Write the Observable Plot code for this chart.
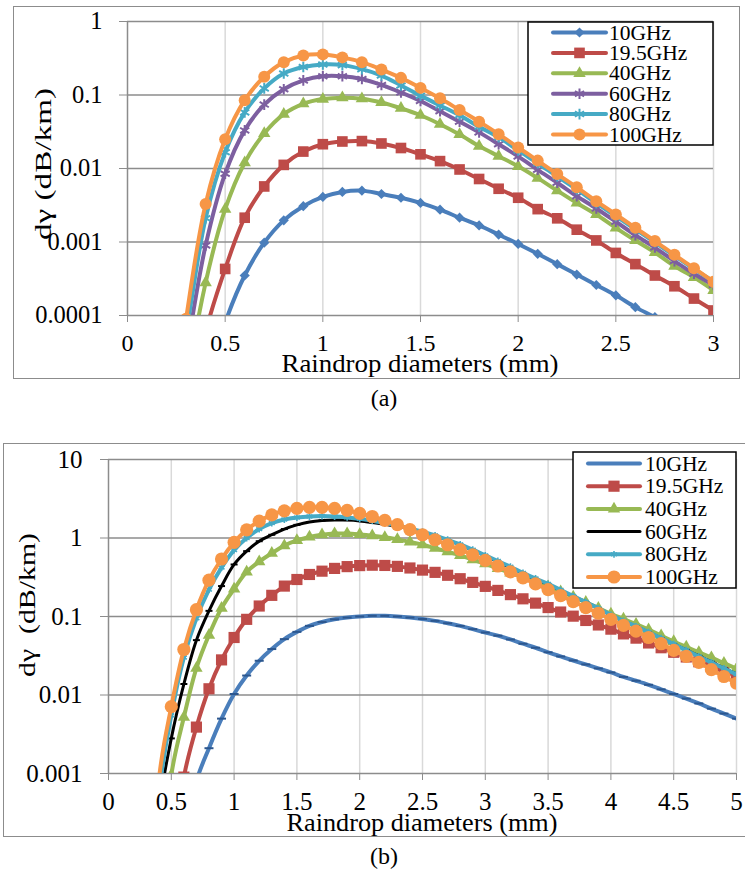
<!DOCTYPE html>
<html><head><meta charset="utf-8">
<script src="https://cdn.jsdelivr.net/npm/d3@7"></script>
<script src="https://cdn.jsdelivr.net/npm/@observablehq/plot@0.6"></script>
<style>
body{margin:0;background:#fff;overflow:hidden}
#wrap{position:relative;width:745px;height:870px;overflow:hidden;font-family:"Liberation Serif","Times New Roman",serif;color:#000}
.frame{position:absolute;border:1.5px solid #8c8c8c;box-sizing:border-box}
.plot{position:absolute;left:0}
</style></head><body><div id="wrap"></div>
<script>
// ---------- data ----------
const freqs = ["10GHz","19.5GHz","40GHz","60GHz","80GHz","100GHz"];
const colorsA = ["#4a7ebb","#be4b48","#98b954","#7d5fa0","#46aac5","#f79646"];
const colorsB = ["#4a7ebb","#be4b48","#98b954","#000000","#46aac5","#f79646"];

// Chart (a): diameters 0.1 .. 3.0 mm
const xA = [0.1,0.2,0.3,0.4,0.5,0.6,0.7,0.8,0.9,1.0,1.1,1.2,1.3,1.4,1.5,1.6,1.7,1.8,1.9,2.0,2.1,2.2,2.3,2.4,2.5,2.6,2.7,2.8,2.9,3.0];
const a10  = [1e-12,5e-9,5e-7,0.00001,0.00008,0.00035,0.00098,0.00197,0.00307,0.0041,0.0048,0.0050,0.0045,0.0040,0.0034,0.00275,0.00214,0.00168,0.00126,0.00094,0.00069,0.0005,0.00036,0.00026,0.000188,0.00013,0.000095,0.00007,0.00005,0.000036];
const a195 = [1e-10,1e-8,3e-6,0.00006,0.00043,0.00214,0.0057,0.0112,0.017,0.0214,0.0233,0.0236,0.0219,0.019,0.0156,0.0126,0.0097,0.0072,0.0053,0.0040,0.0028,0.0021,0.00147,0.00105,0.00071,0.0005,0.00035,0.00025,0.00017,0.000117];
const a40  = [1e-10,1e-7,0.00001,0.00028,0.0028,0.012,0.03,0.055,0.076,0.088,0.092,0.089,0.079,0.066,0.053,0.040,0.029,0.0202,0.0147,0.0107,0.0074,0.005,0.0034,0.00237,0.00156,0.00105,0.00072,0.00047,0.00033,0.00022];
const a60  = [1e-10,1e-6,0.00003,0.0009,0.0085,0.033,0.074,0.12,0.158,0.18,0.18,0.165,0.137,0.108,0.083,0.06,0.0434,0.031,0.0214,0.0146,0.0096,0.0064,0.0042,0.00286,0.00189,0.00124,0.00084,0.00055,0.00037,0.00026];
const a80  = [1e-10,3e-6,0.00006,0.0021,0.0166,0.058,0.123,0.196,0.24,0.26,0.255,0.225,0.184,0.135,0.098,0.072,0.053,0.037,0.0267,0.0176,0.0118,0.0078,0.0052,0.00338,0.00225,0.00149,0.00099,0.00065,0.00043,0.00029];
const a100 = [1e-10,1e-6,0.00009,0.0033,0.025,0.085,0.177,0.28,0.345,0.357,0.325,0.28,0.222,0.171,0.125,0.09,0.0625,0.0434,0.0293,0.0193,0.0128,0.0084,0.00556,0.00359,0.00237,0.00156,0.00103,0.00067,0.00044,0.000288];

// Chart (b): diameters 0.1 .. 5.0 mm
const xB = [0.1,0.2,0.3,0.4,0.5,0.6,0.7,0.8,0.9,1.0,1.1,1.2,1.3,1.4,1.5,1.6,1.7,1.8,1.9,2.0,2.1,2.2,2.3,2.4,2.5,2.6,2.7,2.8,2.9,3.0,3.1,3.2,3.3,3.4,3.5,3.6,3.7,3.8,3.9,4.0,4.1,4.2,4.3,4.4,4.5,4.6,4.7,4.8,4.9,5.0];
const b10  = [1e-12,1e-10,1e-8,1e-6,0.00001,0.00012,0.0008,0.0021,0.005,0.0103,0.0177,0.0273,0.0385,0.0515,0.0637,0.076,0.085,0.092,0.097,0.1,0.102,0.102,0.1,0.097,0.093,0.088,0.082,0.076,0.069,0.0625,0.057,0.051,0.045,0.04,0.035,0.031,0.0275,0.0245,0.0218,0.0194,0.017,0.0152,0.0135,0.0118,0.0103,0.009,0.0078,0.0067,0.0058,0.005];
const b195 = [1e-12,1e-10,1e-8,1e-6,0.00005,0.0009,0.0039,0.012,0.028,0.054,0.092,0.136,0.186,0.244,0.296,0.343,0.378,0.41,0.432,0.445,0.45,0.447,0.435,0.415,0.39,0.365,0.335,0.303,0.272,0.242,0.215,0.19,0.168,0.148,0.13,0.114,0.101,0.089,0.078,0.069,0.06,0.053,0.046,0.04,0.035,0.0305,0.0265,0.0232,0.0202,0.0175];
const b40  = [1e-12,1e-10,1e-8,1e-5,0.00095,0.0052,0.022,0.058,0.128,0.225,0.37,0.5,0.64,0.8,0.93,1.03,1.1,1.14,1.14,1.11,1.07,1.02,0.96,0.89,0.82,0.74,0.67,0.6,0.53,0.47,0.41,0.36,0.315,0.275,0.24,0.207,0.178,0.152,0.128,0.108,0.093,0.08,0.068,0.057,0.048,0.041,0.035,0.03,0.0255,0.0216];
const b60  = [1e-12,1e-10,1e-7,0.0003,0.0028,0.0138,0.05,0.118,0.244,0.46,0.68,0.91,1.1,1.3,1.47,1.6,1.67,1.7,1.69,1.65,1.58,1.5,1.4,1.3,1.18,1.06,0.94,0.82,0.7,0.59,0.5,0.42,0.355,0.3,0.257,0.215,0.18,0.152,0.126,0.104,0.088,0.075,0.063,0.053,0.0445,0.0375,0.0315,0.0265,0.022,0.0186];
const b80  = [1e-12,1e-10,1e-7,0.0005,0.0055,0.03,0.095,0.22,0.42,0.7,1.0,1.3,1.55,1.72,1.82,1.88,1.9,1.88,1.83,1.76,1.66,1.55,1.44,1.32,1.2,1.08,0.95,0.83,0.71,0.6,0.51,0.43,0.36,0.305,0.26,0.218,0.182,0.153,0.127,0.105,0.088,0.075,0.063,0.053,0.0445,0.0372,0.031,0.026,0.0218,0.0183];
const b100 = [1e-12,1e-10,1e-7,0.0008,0.0071,0.038,0.122,0.29,0.54,0.88,1.27,1.64,1.97,2.22,2.38,2.45,2.45,2.38,2.25,2.06,1.88,1.68,1.48,1.28,1.1,0.95,0.82,0.71,0.61,0.52,0.44,0.37,0.31,0.26,0.22,0.185,0.155,0.13,0.11,0.092,0.077,0.065,0.054,0.045,0.037,0.031,0.026,0.021,0.0172,0.0141];

// axes
const xTicksA = [0,0.5,1,1.5,2,2.5,3];
const xTickLabelsA = ["0","0.5","1","1.5","2","2.5","3"];
const yTicksA = [0.0001,0.001,0.01,0.1,1];
const yTickLabelsA = ["0.0001","0.001","0.01","0.1","1"];
const xTicksB = [0,0.5,1,1.5,2,2.5,3,3.5,4,4.5,5];
const xTickLabelsB = ["0","0.5","1","1.5","2","2.5","3","3.5","4","4.5","5"];
const yTicksB = [0.001,0.01,0.1,1,10];
const yTickLabelsB = ["0.001","0.01","0.1","1","10"];
const xTitle = "Raindrop diameters (mm)";
const yTitleA = "dγ (dB/km)";
const yTitleB = "dγ\u00a0 (dB/km)";

// ---------- helpers ----------
const dash = {draw(ctx, size){ const w = Math.sqrt(size / Math.PI); ctx.moveTo(-w, 0); ctx.lineTo(w, 0); }};
const GRID_DARK = "#8c8c8c", GRID_LIGHT = "#d9d9d9";
const FONT = "'Liberation Serif', 'Times New Roman', serif";
const lab = (ticks, labels) => d => labels[ticks.findIndex(t => Math.abs(t - d) < 1e-12)];

const markersA = [
  {symbol:"diamond2", r:4.6, fill:true},
  {symbol:"square", r:6, fill:true},
  {symbol:"triangle", r:4.6, fill:true},
  {symbol:"asterisk", r:5, fill:false, sw:2},
  {symbol:"asterisk", r:5, fill:false, sw:2},
  {symbol:"circle", r:6, fill:true}
];
const markersB = [
  {symbol:dash, r:4.5, fill:false, sw:2, color:"#2c578f"},
  {symbol:"square", r:6.3, fill:true},
  {symbol:"triangle", r:4.6, fill:true},
  {symbol:dash, r:3.5, fill:false, sw:2, color:"#000"},
  {symbol:"asterisk", r:3.2, fill:false, sw:1.6},
  {symbol:"circle", r:6.6, fill:true}
];

function seriesMarks(xs, seriesList, colors, markers, widths) {
  const marks = [];
  seriesList.forEach((vals, s) => {
    const rows = vals.map((v, i) => ({x: xs[i], y: v}));
    marks.push(Plot.line(rows, {x:"x", y:"y", stroke: colors[s], strokeWidth: widths[s], curve:"catmull-rom", clip:true}));
    const m = markers[s];
    const c = m.color || colors[s];
    marks.push(Plot.dot(rows, {x:"x", y:"y", symbol: m.symbol, r: m.r,
      fill: m.fill ? c : "none", stroke: m.fill ? "none" : c, strokeWidth: m.sw || 1, clip:true}));
  });
  return marks;
}

const wrap = document.getElementById("wrap");
function addFrame(l, t, w, h) {
  const d = document.createElement("div");
  d.className = "frame";
  Object.assign(d.style, {left: l+"px", top: t+"px", width: w+"px", height: h+"px"});
  wrap.appendChild(d);
}
addFrame(13, 6, 727, 373);
addFrame(3, 443, 760, 394);

// ---------- chart (a) ----------
const plotA = Plot.plot({
  width: 745, height: 380,
  marginLeft: 127, marginRight: 32, marginTop: 21, marginBottom: 65,
  style: {fontFamily: FONT, background: "transparent", color: "#000", overflow: "visible"},
  x: {domain: [0, 3]},
  y: {type: "log", domain: [0.0001, 1]},
  marks: [
    Plot.gridX(xTicksA.slice(1), {stroke: GRID_LIGHT, strokeOpacity: 1, strokeWidth: 1.5}),
    Plot.gridY(yTicksA.slice(1), {stroke: GRID_DARK, strokeOpacity: 1, strokeWidth: 1.6}),
    Plot.ruleX([0], {stroke: GRID_DARK, strokeWidth: 1.5}),
    Plot.ruleY([0.0001], {stroke: GRID_DARK, strokeWidth: 1.6}),
    Plot.axisY({ticks: yTicksA, tickFormat: lab(yTicksA, yTickLabelsA), tickSize: 8, tickPadding: 17, fontSize: 24.5, fontFamily: FONT, stroke: GRID_DARK, fill: "#000", label: null}),
    Plot.axisX({ticks: xTicksA, tickFormat: lab(xTicksA, xTickLabelsA), tickSize: 7, tickPadding: 11, fontSize: 24, fontFamily: FONT, stroke: GRID_DARK, fill: "#000", label: null}),
    ...seriesMarks(xA, [a10, a195, a40, a60, a80, a100], colorsA, markersA, [4,4,4,4,4,4])
  ]
});
plotA.classList.add("plot");
plotA.style.top = "0px";
wrap.appendChild(plotA);

// ---------- chart (b) ----------
const plotB = Plot.plot({
  width: 745, height: 400,
  marginLeft: 108, marginRight: 9, marginTop: 19, marginBottom: 67,
  style: {fontFamily: FONT, background: "transparent", color: "#000", overflow: "visible"},
  x: {domain: [0, 5]},
  y: {type: "log", domain: [0.001, 10]},
  marks: [
    Plot.gridX(xTicksB.slice(1), {stroke: GRID_LIGHT, strokeOpacity: 1, strokeWidth: 1.5}),
    Plot.gridY(yTicksB.slice(1), {stroke: GRID_DARK, strokeOpacity: 1, strokeWidth: 1.6}),
    Plot.ruleX([0], {stroke: GRID_DARK, strokeWidth: 1.5}),
    Plot.ruleY([0.001], {stroke: GRID_DARK, strokeWidth: 1.6}),
    Plot.axisY({ticks: yTicksB, tickFormat: lab(yTicksB, yTickLabelsB), tickSize: 8, tickPadding: 18, fontSize: 25, fontFamily: FONT, stroke: GRID_DARK, fill: "#000", label: null}),
    Plot.axisX({ticks: xTicksB, tickFormat: lab(xTicksB, xTickLabelsB), tickSize: 7, tickPadding: 12, fontSize: 25, fontFamily: FONT, stroke: GRID_DARK, fill: "#000", label: null}),
    ...seriesMarks(xB, [b10, b195, b40, b60, b80, b100], colorsB, markersB, [4,4,4,3,4,4])
  ]
});
plotB.classList.add("plot");
plotB.style.top = "440px";
wrap.appendChild(plotB);

// ---------- overlay: titles, captions, legends ----------
const ov = d3.create("svg").attr("width", 745).attr("height", 870)
  .style("position", "absolute").style("left", "0px").style("top", "0px")
  .style("pointer-events", "none").style("font-family", FONT);

function txt(x, y, s, size, opts = {}) {
  const t = ov.append("text").attr("x", x).attr("y", y).attr("font-size", size)
    .attr("font-family", FONT)
    .attr("text-anchor", opts.anchor || "middle").attr("fill", "#000").text(s);
  if (opts.len) t.attr("textLength", opts.len).attr("lengthAdjust", "spacingAndGlyphs");
  if (opts.rotate) t.attr("transform", `rotate(${opts.rotate},${x},${y})`);
  if (opts.baseline) t.attr("dominant-baseline", opts.baseline);
  return t;
}
// chart (a)
txt(420, 372, xTitle, 25, {len: 277});
txt(51, 164, yTitleA, 23, {len: 152, rotate: -90});
txt(384, 406, "(a)", 24);
// chart (b)
txt(422, 831, xTitle, 25, {len: 271});
txt(35, 605, yTitleB, 24, {len: 144, rotate: -90});
txt(384, 864, "(b)", 24);

function symbolPath(sym, r) {
  const map = {circle: d3.symbolCircle, square: d3.symbolSquare, triangle: d3.symbolTriangle, asterisk: d3.symbolAsterisk, diamond2: d3.symbolDiamond2};
  const type = typeof sym === "string" ? map[sym] : sym;
  return d3.symbol(type, r * r * Math.PI)();
}
function legend(box, y0, dy, lineX1, lineX2, textX, colors, markers, widths, fontSize, legendMarkers) {
  ov.append("rect").attr("x", box[0]).attr("y", box[1]).attr("width", box[2]).attr("height", box[3])
    .attr("fill", "#fff").attr("stroke", "#000").attr("stroke-width", 1.5);
  freqs.forEach((f, i) => {
    const y = y0 + i * dy;
    ov.append("line").attr("x1", lineX1).attr("x2", lineX2).attr("y1", y).attr("y2", y)
      .attr("stroke", colors[i]).attr("stroke-width", widths[i]).attr("stroke-linecap", "round");
    const m = markers[i];
    if (legendMarkers[i]) {
      const c = m.color || colors[i];
      ov.append("path").attr("d", symbolPath(m.symbol, m.r))
        .attr("transform", `translate(${(lineX1 + lineX2) / 2},${y})`)
        .attr("fill", m.fill ? c : "none").attr("stroke", m.fill ? "none" : c).attr("stroke-width", m.sw || 1);
    }
    txt(textX, y, f, fontSize, {anchor: "start", baseline: "central"});
  });
}
legend([528, 22, 185, 123], 32.5, 20.4, 553, 606, 609, colorsA, markersA, [4,4,4,4,4,4], 21.5, [1,1,1,1,1,1]);
legend([573, 452, 163, 136], 463.5, 22.7, 588, 640, 645, colorsB, markersB, [4,4,4,3,4,4], 21.5, [0,1,1,0,1,1]);

wrap.appendChild(ov.node());
</script>
</body></html>
